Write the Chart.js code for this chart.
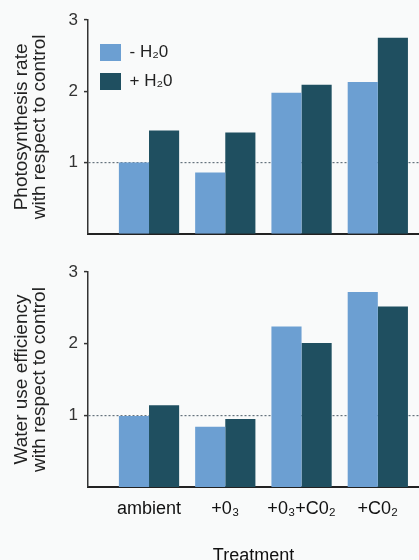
<!DOCTYPE html>
<html><head><meta charset="utf-8">
<script src="https://cdn.jsdelivr.net/npm/chart.js@4"></script>
<style>
html,body{margin:0;padding:0;overflow:hidden;background:#f9fafa;width:419px;height:560px;}
#top{position:absolute;left:0;top:0;width:419px;height:250px;}
#bot{position:absolute;left:0;top:250px;width:419px;height:320px;}
</style></head><body>
<div id="top"><canvas id="c1"></canvas></div>
<div id="bot"><canvas id="c2"></canvas></div>
<script>
const categories = ['ambient', '+0₃', '+0₃+C0₂', '+C0₂'];
const seriesNames = ['- H₂0', '+ H₂0'];
const photoMinus = [1.00, 0.86, 1.98, 2.13];
const photoPlus  = [1.45, 1.42, 2.09, 2.75];
const wueMinus   = [0.99, 0.84, 2.24, 2.72];
const wuePlus    = [1.14, 0.95, 2.01, 2.52];
const yTicks = [1, 2, 3];
const photoTitle = ['Photosynthesis rate', 'with respect to control'];
const wueTitle = ['Water use efficiency', 'with respect to control'];
const xTitle = 'Treatment';

const F = "'Liberation Sans', Arial, Helvetica, sans-serif";
const LIGHT = '#6c9fd2', DARK = '#1f4f60';

function makeChart(id, minusVals, plusVals, yTitle, opts) {
  const toXY = vals => categories.map((c, i) => ({x: i, y: vals[i]}));
  return new Chart(document.getElementById(id), {
    type: 'bar',
    data: {
      datasets: [
        {label: seriesNames[0], data: toXY(minusVals), backgroundColor: LIGHT, borderWidth: 0},
        {label: seriesNames[1], data: toXY(plusVals), backgroundColor: DARK, borderWidth: 0}
      ]
    },
    options: {
      responsive: true, maintainAspectRatio: false, animation: false,
      devicePixelRatio: 1,
      categoryPercentage: 0.79, barPercentage: 1.0,
      layout: {padding: {top: opts.padTop, left: 0, right: 0, bottom: 0}},
      plugins: {
        tooltip: {enabled: false},
        legend: opts.legend ? {
          display: true, position: 'chartArea', align: 'start',
          title: {display: true, text: '', font: {size: 1, lineHeight: 1}, padding: {top: opts.legendShift, bottom: 0}},
          labels: {boxWidth: 21, boxHeight: 17, padding: 12, color: '#222', font: {size: 17, family: F}}
        } : {display: false}
      },
      scales: {
        x: {
          type: 'linear', min: -0.8, max: 3.54, offset: false,
          afterBuildTicks: s => { s.ticks = categories.map((c, i) => ({value: i})); },
          afterFit: s => { s.height = opts.xHeight; },
          ticks: {display: opts.xLabels, callback: v => categories[v], autoSkip: false, maxRotation: 0,
                  padding: 11, color: '#111', font: {size: 18, family: F}},
          grid: {display: false, drawTicks: false, offset: false},
          border: {display: true, color: '#222', width: 2},
          title: {display: opts.xLabels, text: xTitle, color: '#111', font: {size: 18, family: F},
                  padding: {top: 0, bottom: 3}}
        },
        y: {
          min: 0, max: 3,
          afterBuildTicks: s => { s.ticks = yTicks.map(v => ({value: v})); },
          afterFit: s => { s.width = 88; },
          ticks: {color: '#333', font: {size: 17, family: F}, padding: 6},
          grid: {
            color: c => (c.tick && c.tick.value === 1) ? '#66737d' : 'rgba(0,0,0,0)',
            lineWidth: 1.2, drawTicks: true, tickLength: 4, tickColor: '#333', tickWidth: 1.5
          },
          border: {display: true, color: '#333', width: 1.5, dash: [2, 2]},
          title: {display: true, text: yTitle, color: '#222', font: {size: 19, family: F, lineHeight: 0.95},
                  padding: {top: 13, bottom: 0}}
        }
      }
    }
  });
}

makeChart('c1', photoMinus, photoPlus, photoTitle, {padTop: 20, xHeight: 13, xLabels: false, legend: true, legendShift: 31});
makeChart('c2', wueMinus, wuePlus, wueTitle, {padTop: 22, xHeight: 83, xLabels: true, legend: false});
</script>
</body></html>
